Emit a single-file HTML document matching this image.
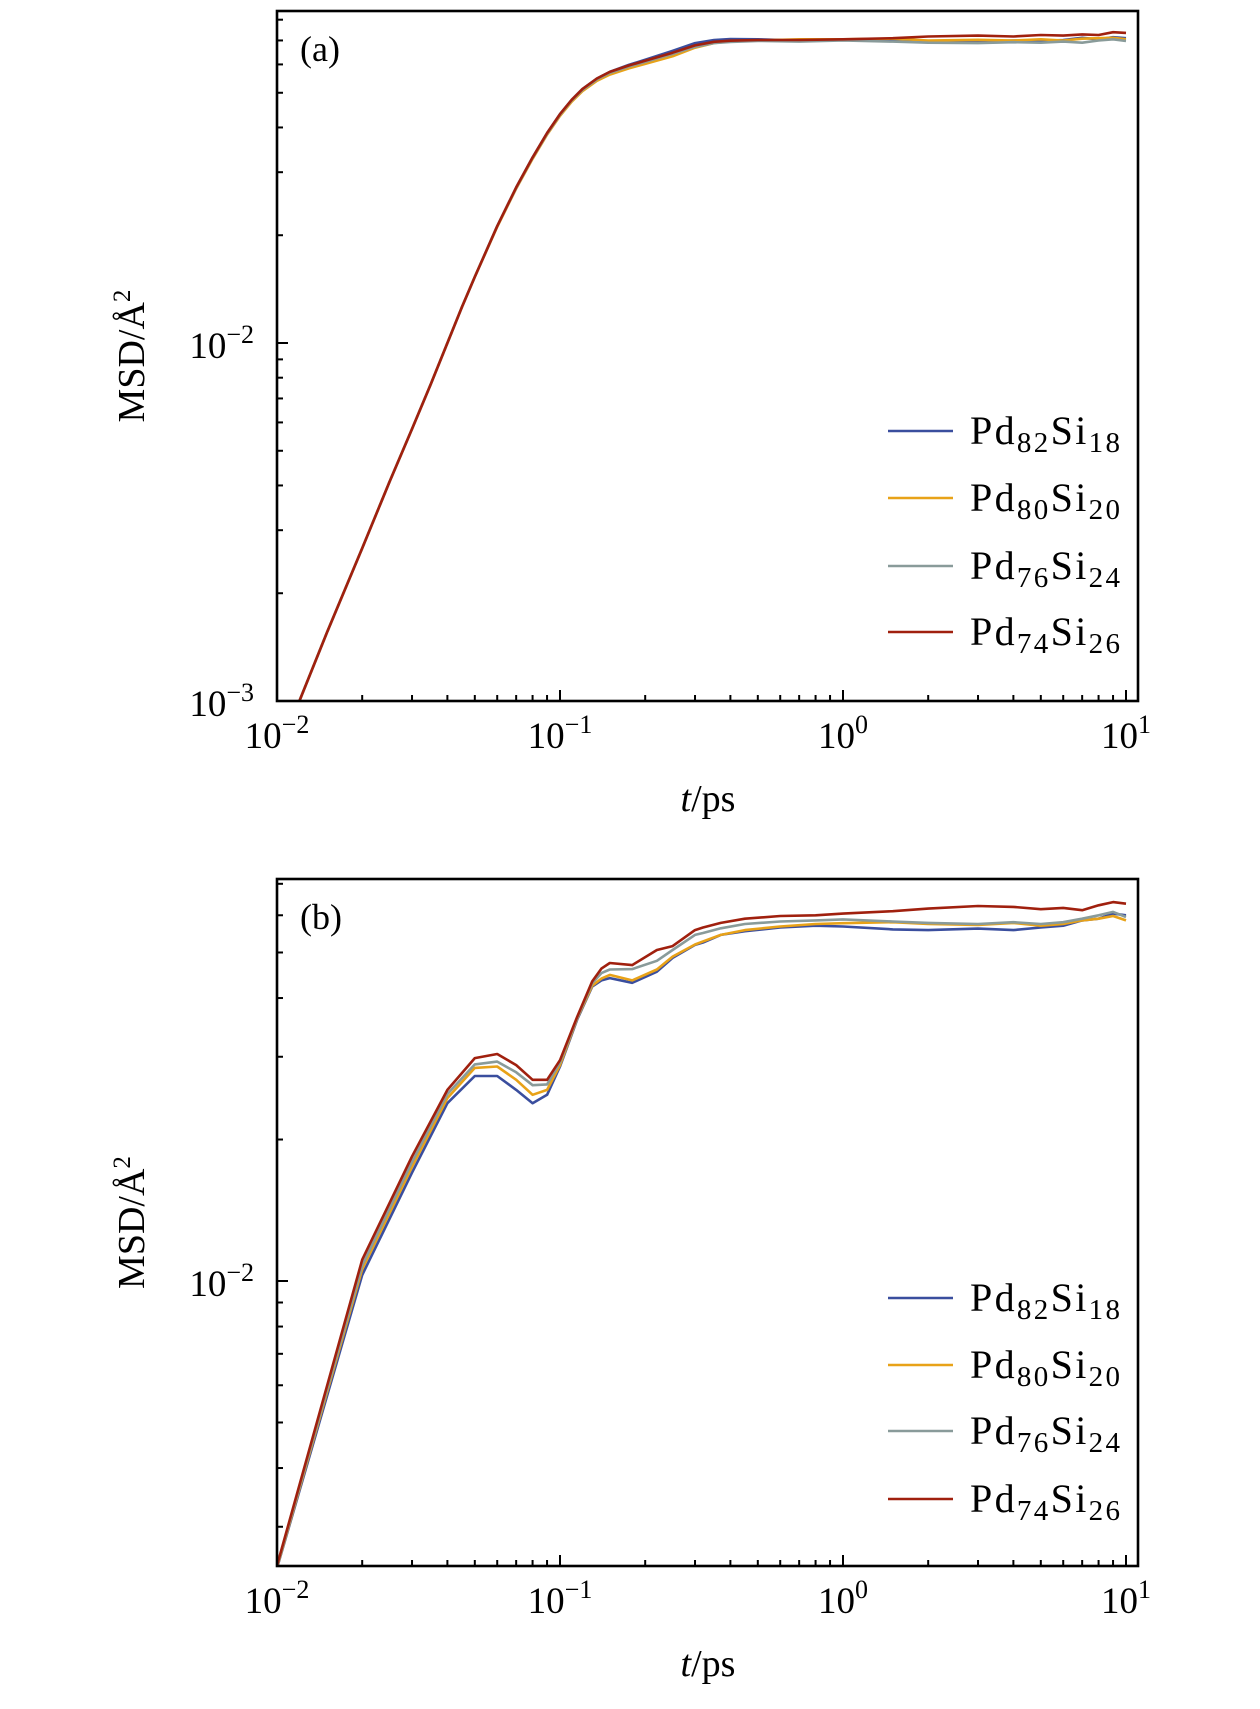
<!DOCTYPE html>
<html><head><meta charset="utf-8"><style>
html,body{margin:0;padding:0;background:#fff}
svg{display:block}
text{font-family:"Liberation Serif",serif;fill:#000}
</style></head><body>
<svg id="fig" width="1260" height="1709" viewBox="0 0 1260 1709" xmlns="http://www.w3.org/2000/svg"></svg>
<script>
const seriesNames = ["Pd82Si18","Pd80Si20","Pd76Si24","Pd74Si26"];
const seriesColors = ["#3a4e9e","#e8a218","#899b9a","#a0200e"];
const xTickExps = [-2,-1,0,1];
const yTickExpsA = [-3,-2];
const yTickExpsB = [-2];

const tA = [0.012,0.015,0.02,0.025,0.03,0.035,0.04,0.045,0.05,0.06,0.07,0.08,0.09,0.1,0.11,0.12,0.135,0.15,0.175,0.2,0.25,0.3,0.35,0.4,0.5,0.7,1,1.5,2,3,4,5,6,7,8,9,10];
const aBlue   = [0.001,0.00155,0.00267,0.0041,0.00575,0.0077,0.0100,0.0126,0.0153,0.0212,0.0272,0.0330,0.0386,0.0436,0.0478,0.0512,0.0548,0.0572,0.0598,0.0618,0.0655,0.0688,0.0702,0.0706,0.0705,0.0700,0.0702,0.0700,0.0698,0.0695,0.0700,0.0698,0.0702,0.0712,0.0705,0.0715,0.0710];
const aYellow = [0.001,0.00155,0.00267,0.0041,0.00575,0.0077,0.0100,0.0126,0.0153,0.0211,0.0270,0.0327,0.0382,0.0431,0.0472,0.0505,0.0540,0.0562,0.0585,0.0602,0.0632,0.0668,0.0688,0.0696,0.0700,0.0705,0.0705,0.0708,0.0700,0.0703,0.0700,0.0705,0.0700,0.0708,0.0710,0.0712,0.0705];
const aGray   = [0.001,0.00155,0.00267,0.0041,0.00575,0.0077,0.0100,0.0126,0.0153,0.0212,0.0271,0.0329,0.0384,0.0434,0.0476,0.0509,0.0545,0.0568,0.0592,0.0610,0.0642,0.0672,0.0688,0.0693,0.0698,0.0695,0.0700,0.0695,0.0690,0.0688,0.0692,0.0690,0.0695,0.0690,0.0700,0.0705,0.0698];
const aRed    = [0.001,0.00155,0.00267,0.0041,0.00575,0.0077,0.0100,0.0126,0.0153,0.0212,0.0272,0.0330,0.0386,0.0436,0.0478,0.0512,0.0548,0.0572,0.0596,0.0614,0.0647,0.0678,0.0694,0.0699,0.0702,0.0702,0.0705,0.0710,0.0718,0.0722,0.0718,0.0725,0.0722,0.0728,0.0725,0.0738,0.0735];

const tB = [0.01,0.02,0.03,0.04,0.05,0.06,0.07,0.08,0.09,0.1,0.115,0.13,0.14,0.15,0.18,0.22,0.25,0.3,0.32,0.37,0.45,0.6,0.8,1,1.5,2,3,4,5,6,7,8,9,10];
const bBlue   = [0.00245,0.0103,0.0170,0.0239,0.0273,0.0273,0.0255,0.0239,0.0249,0.0286,0.0360,0.0423,0.0436,0.0441,0.0431,0.0455,0.0487,0.0519,0.0525,0.0545,0.0555,0.0565,0.0570,0.0568,0.0560,0.0558,0.0562,0.0558,0.0565,0.0570,0.0585,0.0590,0.0605,0.0600];
const bYellow = [0.00246,0.0106,0.0175,0.0245,0.0284,0.0286,0.0268,0.0249,0.0255,0.0288,0.0362,0.0425,0.0440,0.0448,0.0436,0.0460,0.0490,0.0520,0.0528,0.0545,0.0558,0.0568,0.0575,0.0577,0.0580,0.0575,0.0572,0.0578,0.0570,0.0575,0.0585,0.0590,0.0598,0.0585];
const bGray   = [0.00247,0.0108,0.0179,0.0250,0.0289,0.0293,0.0278,0.0261,0.0262,0.0292,0.0363,0.0430,0.0452,0.0460,0.0461,0.0480,0.0506,0.0545,0.0550,0.0563,0.0575,0.0582,0.0585,0.0588,0.0582,0.0578,0.0575,0.0580,0.0575,0.0580,0.0590,0.0600,0.0610,0.0595];
const bRed    = [0.00248,0.0111,0.0184,0.0255,0.0298,0.0304,0.0288,0.0268,0.0268,0.0295,0.0365,0.0434,0.0462,0.0475,0.0470,0.0506,0.0516,0.0558,0.0565,0.0578,0.0590,0.0598,0.0600,0.0605,0.0612,0.0620,0.0628,0.0625,0.0618,0.0622,0.0615,0.0630,0.0640,0.0635];

const NS = "http://www.w3.org/2000/svg";
const svg = document.getElementById("fig");
function mk(tag, attrs, parent){
  const e = document.createElementNS(NS, tag);
  for (const k in attrs) e.setAttribute(k, attrs[k]);
  (parent||svg).appendChild(e);
  return e;
}
const X0 = 277, X1 = 1138, DEC_X = 283;
function xOf(t){ return X0 + (Math.log10(t) + 2) * DEC_X; }

function panel(id, top, bottom, y10m2, decY, tArr, seriesArr, yExps, minorRange, label, legendYs){
  const yOf = v => y10m2 - (Math.log10(v) + 2) * decY;
  const g = mk("g", {});
  
  
  const cp = mk("clipPath", {id: "clip-" + id}, g);
  mk("rect", {x: X0, y: top, width: X1 - X0, height: bottom - top}, cp);
  seriesArr.forEach((vals, i) => {
    const d = tArr.map((t, j) => (j ? "L" : "M") + xOf(t).toFixed(1) + "," + yOf(vals[j]).toFixed(1)).join(" ");
    const p = mk("path", {d: d, fill: "none", stroke: seriesColors[i], "stroke-width": 2.6, "stroke-linejoin": "round", "clip-path": "url(#clip-" + id + ")"}, g);
    
    
  });
  const fr = mk("rect", {x: X0, y: top, width: X1 - X0, height: bottom - top, fill: "none", stroke: "#000", "stroke-width": 2.6}, g);
  
  
  for (let e = -2; e <= 1; e++) {
    for (let m = 1; m <= 9; m++) {
      const t = m * Math.pow(10, e);
      const x = xOf(t);
      if (x > X1 - 2) break;
      const len = m === 1 ? 11 : 6;
      mk("line", {x1: x, x2: x, y1: bottom, y2: bottom - len, stroke: "#000", "stroke-width": 2}, g);
    }
  }
  xTickExps.forEach(e => {
    const tx = mk("text", {x: xOf(Math.pow(10, e)), y: bottom + 47, "font-size": 37, "text-anchor": "middle"}, g);
    
    
    tx.innerHTML = '10<tspan dy="-15" font-size="26">' + (e < 0 ? "\u2212" + (-e) : e) + '</tspan>';
  });
  for (let e = minorRange[0]; e <= minorRange[1]; e++) {
    for (let m = 1; m <= 9; m++) {
      const v = m * Math.pow(10, e);
      const y = yOf(v);
      if (y < top + 2 || y > bottom - 1) continue;
      const len = m === 1 ? 11 : 6;
      mk("line", {x1: X0, x2: X0 + len, y1: y, y2: y, stroke: "#000", "stroke-width": 2}, g);
    }
  }
  yExps.forEach(e => {
    const ty = mk("text", {x: 254, y: yOf(Math.pow(10, e)) + 15, "font-size": 37, "text-anchor": "end"}, g);
    
    
    ty.innerHTML = '10<tspan dy="-15" font-size="26">\u2212' + (-e) + '</tspan>';
  });
  const pl = mk("text", {x: 300, y: top + 50, "font-size": 36}, g);
  
  
  pl.textContent = label;
  const xt = mk("text", {x: 708, y: bottom + 110, "font-size": 38, "text-anchor": "middle"}, g);
  
  
  xt.innerHTML = '<tspan font-style="italic">t</tspan>/ps';
  const ycy = (top + bottom) / 2;
  const yt = mk("text", {x: 0, y: 0, "font-size": 38, "text-anchor": "middle", transform: "translate(144," + ycy + ") rotate(-90)"}, g);
  
  
  yt.innerHTML = 'MSD/Å<tspan dy="-14" font-size="25">2</tspan>';
  const lg = mk("g", {}, g);
  
  
  const subs = [["82","18"],["80","20"],["76","24"],["74","26"]];
  legendYs.forEach((ly, i) => {
    const en = mk("g", {}, lg);
    
    
    mk("line", {x1: 888, x2: 953, y1: ly, y2: ly, stroke: seriesColors[i], "stroke-width": 2.6}, en);
    const tt = mk("text", {x: 970, y: ly + 13, "font-size": 40, textLength: 150, lengthAdjust: "spacing"}, en);
    tt.innerHTML = 'Pd<tspan dy="8" font-size="29">' + subs[i][0] + '</tspan><tspan dy="-8">Si</tspan><tspan dy="8" font-size="29">' + subs[i][1] + '</tspan>';
  });
}

panel("a", 11, 701, 343, 358, tA, [aBlue, aYellow, aGray, aRed], yTickExpsA, [-3, -2], "(a)", [431, 498, 566, 632]);
panel("b", 879, 1566, 1281, 470, tB, [bBlue, bYellow, bGray, bRed], yTickExpsB, [-3, -2], "(b)", [1298, 1365, 1431, 1499]);
</script>
</body></html>
